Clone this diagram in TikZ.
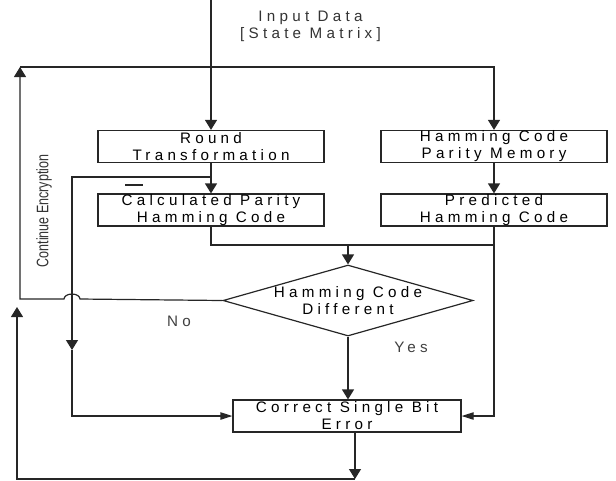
\documentclass[tikz,border=0pt]{standalone}
\usepackage{fontspec}
\setmainfont{Liberation Sans}
\newfontfamily\spacedfont[LetterSpace=28]{Liberation Sans}
\usetikzlibrary{arrows.meta, shapes.geometric}

\tikzset{
  blk/.style={draw=black!85, line width=0.9pt, minimum width=169.5pt, minimum height=24pt,
    inner sep=0pt, align=center, font=\spacedfont\fontsize{11.4}{12.75}\selectfont},
  decision/.style={diamond, draw=black!85, line width=0.9pt, minimum width=187.5pt,
    minimum height=53.25pt, inner sep=0pt},
  lbl/.style={align=center, inner sep=0pt, font=\spacedfont\fontsize{11.4}{12.75}\selectfont},
  flow/.style={draw=black!85, line width=0.9pt},
  tip/.style={-{Triangle[width=9pt,length=7.5pt]}},
  sidetip/.style={-{Triangle[width=5.5pt,length=9pt]}}
}

\begin{document}
\begin{tikzpicture}[x=0.75pt, y=-0.75pt]
  \useasboundingbox (0,0) rectangle (616,480);

  % blocks
  \node[blk] (round) at (211,146.5) {Round\\Transformation};
  \node[blk] (calc) at (211,210) {Calculated Parity\\Hamming Code};
  \node[blk] (hcpm) at (494,146.5) {Hamming Code\\Parity Memory};
  \node[blk] (pred) at (494,210) {Predicted\\Hamming Code};
  \node[decision, label={[lbl]center:Hamming Code\\Different}] (diff) at (348,300.5) {};
  \node[blk, minimum width=171pt] (fix) at (347,416) {Correct Single Bit\\Error};

  % texts
  \node[lbl, text=black!80] (input) at (310.5,26) {Input Data\\{[State Matrix]}};
  \node[lbl, text=black!75] (no) at (179,321) {No};
  \node[lbl, text=black!75] (yes) at (411,347) {Yes};
  \node[rotate=90, inner sep=0pt, text=black!80, font=\fontsize{12.5}{12.5}\selectfont]
    (cont) at (44,211) {\scalebox{0.75}[1]{Continue Encryption}};

  % bends
  \coordinate (start) at (211,0);
  \coordinate (topl) at (20,67);
  \coordinate (topr) at (494,67);
  \coordinate (loopl) at (20,299);
  \coordinate (tap) at (211,177);
  \coordinate (tapl) at (72,177);
  \coordinate (midl) at (72,350);
  \coordinate (merge) at (348,245);
  \coordinate (fixout) at (355,432);
  \coordinate (botr) at (355,479);
  \coordinate (botl) at (17,479);
  \coordinate (upl) at (17,307);

  % main flow
  \draw[flow, tip] (start) -- (round.north);
  \draw[flow, tip] (round.south) -- (calc.north);
  \draw[flow, tip] (hcpm.south) -- (pred.north);
  \draw[flow] (calc.south) |- (merge -| pred.south);
  \draw[flow, tip] (merge) -- (diff.north);
  \draw[flow, tip] (diff.south) -- (diff.south |- fix.north);
  \draw[flow, sidetip] (pred.south) |- (fix.east);

  % loop back, hops over the side line
  \draw[flow, tip] (diff.west) -- (80,299)
    arc[start angle=0, end angle=-180, x radius=8, y radius=5] -- (loopl) -- (topl);
  \draw[flow, tip] (topl) -- (topr) -- (hcpm.north);

  % side line down to the correction block
  \draw[flow, tip] (tap) -- (tapl) -- (midl);
  \draw[flow, sidetip] (midl) |- (fix.west);
  \draw[flow] (125,185) -- (143,185);

  % output and return
  \draw[flow, tip] (fixout) -- (botr);
  \draw[flow, tip] (botr) -- (botl) -- (upl);
\end{tikzpicture}
\end{document}
